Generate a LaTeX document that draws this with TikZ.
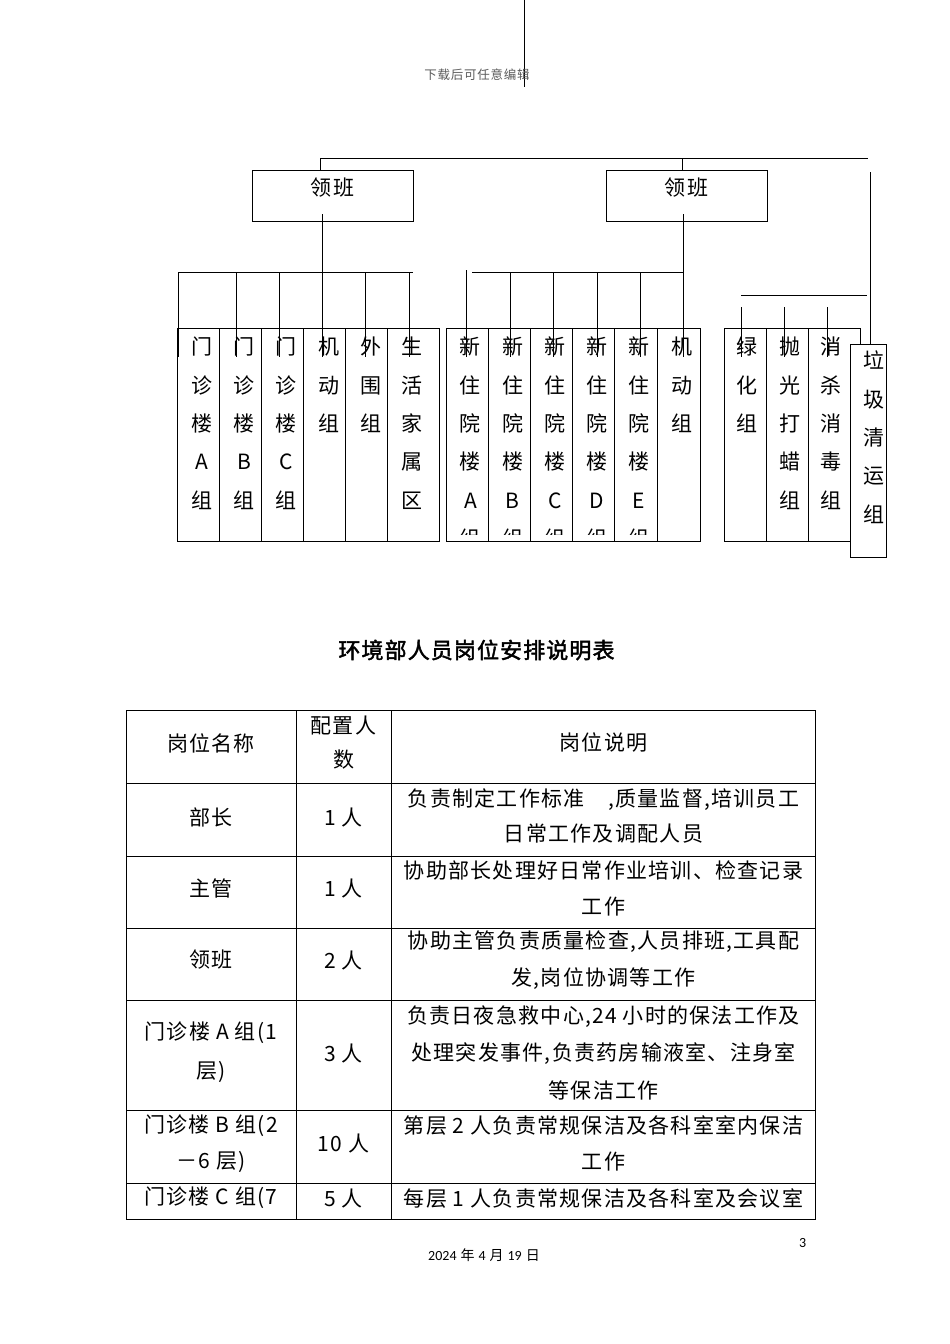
\documentclass[tikz,border=0pt]{standalone}
\usepackage{fontspec}
\setmainfont[LetterSpace=6]{Noto Sans CJK SC}
\newfontfamily\titlecjk[FakeBold=2,LetterSpace=5]{Noto Sans CJK SC}
\newfontfamily\footfont{Carlito}

\tikzset{
  link/.style={line width=0.9pt},
  lead/.style={draw,line width=0.9pt,inner sep=0pt,minimum width=161.5,minimum height=51,anchor=north west},
  col/.style={draw,line width=0.9pt,inner sep=0pt,minimum height=212.7,anchor=north west},
  vcol/.style={anchor=north,align=center,inner sep=0pt,font=\fontsize{21}{38.3}\selectfont},
  cell/.style={align=center,inner sep=0pt,font=\fontsize{21}{36.5}\selectfont},
}

\begin{document}
\begin{tikzpicture}[x=1pt,y=-1pt]
\useasboundingbox (0,0) rectangle (950,1344);

% line from the page above and the note on it
\coordinate (up0) at (524.4,0);
\coordinate (up1) at (524.4,87);
\draw[link] (up0) -- (up1);
\node[text=black!65,font=\fontsize{12.5}{14}\selectfont] (note) at (477,75) {下载后可任意编辑};

% two leaders
\node[lead] (lb1) at (251.7,170) {};
\node[lead] (lb2) at (605.6,170) {};
\node[font=\fontsize{21}{25}\selectfont] (lb1t) at (332.5,188) {领班};
\node[font=\fontsize{21}{25}\selectfont] (lb2t) at (686.5,188) {领班};

\coordinate (busL) at (320,158);
\coordinate (busM) at (682,158);
\coordinate (busR) at (868,158);
\draw[link] (busL |- lb1.north) -- (busL) -- (busR);
\draw[link] (busM) -- (busM |- lb2.north);

% leader 1 down to its bar
\coordinate (d1) at (322.3,214);
\coordinate (barA0) at (178,272.7);
\coordinate (barA1) at (413,272.7);
\draw[link] (d1) -- (d1 |- barA0);
\draw[link] (barA0) -- (barA1);
\foreach \x [count=\i] in {178,236,279,322.3,365.7,409} {
  \coordinate (ta\i) at (\x,272.7);
  \coordinate (tb\i) at (\x,357);
  \draw[link] (ta\i) -- (tb\i);
}

% leader 2 down to its bar
\coordinate (d2) at (683,214);
\coordinate (barB0) at (472,272.7);
\coordinate (barB1) at (683,272.7);
\draw[link] (d2) -- (d2 |- barB0);
\draw[link] (barB0) -- (barB1);
\coordinate (tc0) at (466.7,270);
\coordinate (td0) at (466.7,357);
\draw[link] (tc0) -- (td0);
\foreach \x [count=\i] in {510,553.5,597,640,683} {
  \coordinate (tc\i) at (\x,272.7);
  \coordinate (td\i) at (\x,357);
  \draw[link] (tc\i) -- (td\i);
}

% third bar
\coordinate (barC0) at (741,295);
\coordinate (barC1) at (867,295);
\draw[link] (barC0) -- (barC1);
\foreach \x [count=\i] in {741,784,827} {
  \coordinate (te\i) at (\x,307);
  \coordinate (tf\i) at (\x,357);
  \draw[link] (te\i) -- (tf\i);
}

% groups under leader 1
\foreach \x/\w/\n/\s/\t in {
  176.5/42/mA/4/{门\\诊\\楼\\A\\组},
  218.5/42.5/mB/4/{门\\诊\\楼\\B\\组},
  261/42/mC/4/{门\\诊\\楼\\C\\组},
  303/42.4/mJ/4/{机\\动\\组},
  345.4/41.6/mW/4/{外\\围\\组},
  387/52/mS/-1/{生\\活\\家\\属\\区}} {
  \node[col,minimum width=\w] (\n) at (\x,328) {};
  \node[vcol] (\n-t) at ([xshift=\s pt,yshift=-9pt]\n.north) {\t};
}

% groups under leader 2
\foreach \x/\w/\n in {446/42/zA,488/42.4/zB,530.4/42/zC,572.4/42/zD,614.4/42.4/zE,656.8/43.2/zJ}
  \node[col,minimum width=\w] (\n) at (\x,328) {};
\begin{scope}
\clip (446,328) rectangle (700,534);
\foreach \n/\t in {zA/{新\\住\\院\\楼\\A\\组},zB/{新\\住\\院\\楼\\B\\组},
  zC/{新\\住\\院\\楼\\C\\组},zD/{新\\住\\院\\楼\\D\\组},
  zE/{新\\住\\院\\楼\\E\\组},zJ/{机\\动\\组}}
  \node[vcol] (\n-t) at ([xshift=3pt,yshift=-9pt]\n.north) {\t};
\end{scope}

% third group
\foreach \x/\w/\n/\s/\t in {
  723.8/42.2/gL/2/{绿\\化\\组},
  766/42/gP/3/{抛\\光\\打\\蜡\\组},
  808/52/gX/-3/{消\\杀\\消\\毒\\组}} {
  \node[col,minimum width=\w] (\n) at (\x,328) {};
  \node[vcol] (\n-t) at ([xshift=\s pt,yshift=-9pt]\n.north) {\t};
}

% waste transport
\node[col,fill=white,minimum width=36.3] (lj) at (849.7,344) {};
\node[vcol] (lj-t) at ([xshift=5.5pt,yshift=-7pt]lj.north) {垃\\圾\\清\\运\\组};
\coordinate (rv) at (870.5,172);
\draw[link] (rv) -- (rv |- lj.north);

% table
\node[font=\titlecjk\fontsize{22}{26}\selectfont] (title) at (476.5,650) {环境部人员岗位安排说明表};

\draw[link] (126,710) rectangle (815,1219.3);
\foreach \x in {296,391.7}
  \draw[link] (\x,710) -- (\x,1219.3);
\foreach \y in {783,856,928.3,1000.7,1110.7,1183.3}
  \draw[link] (126,\y) -- (815,\y);

\node[cell] (h1) at (211,743) {岗位名称};
\node[cell,font=\fontsize{21}{34}\selectfont] (h2) at (343.5,743) {配置人\\数};
\node[cell] (h3) at (603.5,743) {岗位说明};

\node[cell] (r1a) at (211,817) {部长};
\node[cell] (r1b) at (343.5,817) {1 人};
\node[cell,font=\fontsize{21}{35}\selectfont] (r1c) at (603.5,815.5) {负责制定工作标准　,质量监督,培训员工\\日常工作及调配人员};

\node[cell] (r2a) at (211,888) {主管};
\node[cell] (r2b) at (343.5,888) {1 人};
\node[cell] (r2c) at (603.5,888.5) {协助部长处理好日常作业培训、检查记录\\工作};

\node[cell] (r3a) at (211,960) {领班};
\node[cell] (r3b) at (343.5,960) {2 人};
\node[cell] (r3c) at (603.5,960) {协助主管负责质量检查,人员排班,工具配\\发,岗位协调等工作};

\node[cell,font=\fontsize{21}{38.5}\selectfont] (r4a) at (211,1052) {门诊楼 A 组(1\\层)};
\node[cell] (r4b) at (343.5,1053) {3 人};
\node[cell,font=\fontsize{21}{37.5}\selectfont] (r4c) at (603.5,1052.5) {负责日夜急救中心,24 小时的保法工作及\\处理突发事件,负责药房输液室、注身室\\等保洁工作};

\node[cell] (r5a) at (211,1143.5) {门诊楼 B 组(2\\－6 层)};
\node[cell] (r5b) at (343.5,1143) {10 人};
\node[cell] (r5c) at (603.5,1143.5) {第层 2 人负责常规保洁及各科室室内保洁\\工作};

\node[cell] (r6a) at (211,1198) {门诊楼 C 组(7};
\node[cell] (r6b) at (343.5,1198) {5 人};
\node[cell] (r6c) at (603.5,1198) {每层 1 人负责常规保洁及各科室及会议室};

% page foot
\node[font=\footfont\fontsize{14}{16}\selectfont] (pg) at (802.7,1243) {3};
\node[font=\fontsize{14}{16}\selectfont] (date) at (484,1255) {{\footfont 2024} 年 {\footfont 4} 月 {\footfont 19} 日};
\end{tikzpicture}
\end{document}
